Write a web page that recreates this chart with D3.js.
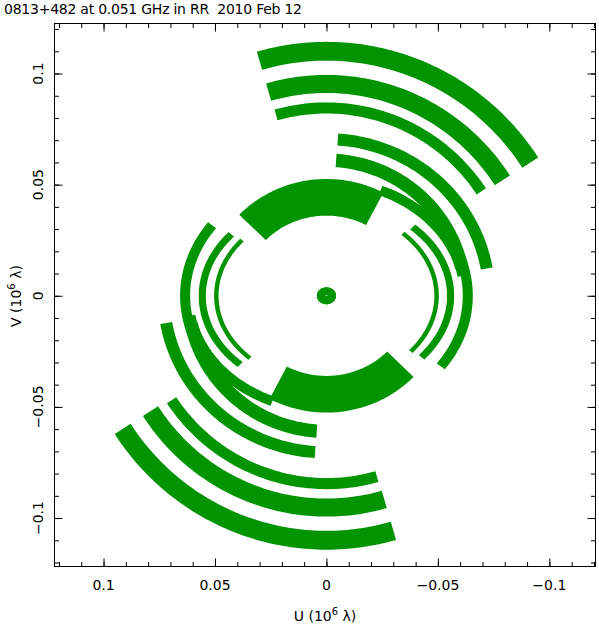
<!DOCTYPE html>
<html>
<head>
<meta charset="utf-8">
<script src="https://cdn.jsdelivr.net/npm/d3@7"></script>
<style>
  body { margin: 0; background: #fff; }
  text { font-family: "DejaVu Sans", sans-serif; fill: #000; white-space: pre; }
</style>
</head>
<body>
<svg id="chart" width="599" height="626"></svg>
<script>
// uv tracks (upper half); each one is drawn with its conjugate (-u,-v)
// ellipse: -u = semiU*cos(t), v = semiV*sin(t), t in degrees, band of width bandW
const trackNames = ['T1', 'T2', 'T3', 'M1', 'M2', 'C', 'F', 'D1', 'D2', 'D3', 'zero'];
const semiU  = [0.109, 0.0941, 0.0836, 0.073, 0.062, 0.0461, 0.062, 0.0494, 0.0557, 0.0634, 0.0025];
const semiV  = [0.110, 0.0953, 0.0845, 0.0705, 0.061, 0.0443, 0.0515, 0.039, 0.043, 0.054, 0.002];
const bandW  = [0.0085, 0.0081, 0.005, 0.0054, 0.006, 0.0165, 0.0045, 0.002, 0.0032, 0.0045, 0.0036];
const tStart = [106, 106, 105.7, 86, 86, 136, 67, 46, 46, 45, 0];
const tEnd   = [33, 33, 33.8, 10, 12, 62, 10, -40, -40, -36, 360];

const majorTicks = [0.1, 0.05, 0, -0.05, -0.1];
const tickLabels = ['0.1', '0.05', '0', '\u22120.05', '\u22120.1'];
const minorTicks = d3.range(-12, 13).map(d => d / 100);

const title = '0813+482 at 0.051 GHz in RR  2010 Feb 12';
const green = '#009400';

const svg = d3.select('#chart');
const pL = 54.5, pR = 595.5, pT = 23.5, pB = 566.5;

const x = d3.scaleLinear().domain([0.122, -0.1207]).range([pL, pR]);
const y = d3.scaleLinear().domain([-0.1218, 0.1225]).range([pB, pT]);

// tracks
const g = svg.append('g');
function band(i, sign) {
  const t0 = tStart[i], t1 = tEnd[i];
  const n = Math.max(8, Math.round(Math.abs(t1 - t0)));
  const ts = d3.range(n + 1).map(k => (t0 + (t1 - t0) * k / n) * Math.PI / 180);
  const pts = [];
  const h = bandW[i] / 2;
  ts.forEach(t => pts.push([sign * -(semiU[i] + h) * Math.cos(t), sign * (semiV[i] + h) * Math.sin(t)]));
  ts.slice().reverse().forEach(t => pts.push([sign * -(semiU[i] - h) * Math.cos(t), sign * (semiV[i] - h) * Math.sin(t)]));
  return pts;
}
const line = d3.line().x(d => x(d[0])).y(d => y(d[1]));
trackNames.forEach((name, i) => {
  [1, -1].forEach(sign => {
    g.append('path')
      .attr('d', line(band(i, sign)) + 'Z')
      .attr('fill', green);
  });
});

// frame
svg.append('rect')
  .attr('x', pL).attr('y', pT)
  .attr('width', pR - pL).attr('height', pB - pT)
  .attr('fill', 'none').attr('stroke', '#000').attr('stroke-width', 1);

// inward ticks on all four sides
function ticks(axis, tr, vals, size) {
  const a = svg.append('g').attr('transform', tr)
    .call(axis.tickValues(vals).tickSize(-size).tickSizeOuter(0).tickFormat(''));
  a.select('.domain').remove();
  a.selectAll('line').attr('stroke', '#000');
}
ticks(d3.axisBottom(x), `translate(0,${pB})`, majorTicks, 8);
ticks(d3.axisBottom(x), `translate(0,${pB})`, minorTicks, 4.5);
ticks(d3.axisTop(x), `translate(0,${pT})`, majorTicks, 8);
ticks(d3.axisTop(x), `translate(0,${pT})`, minorTicks, 4.5);
ticks(d3.axisLeft(y), `translate(${pL},0)`, majorTicks, 8);
ticks(d3.axisLeft(y), `translate(${pL},0)`, minorTicks, 4.5);
ticks(d3.axisRight(y), `translate(${pR},0)`, majorTicks, 8);
ticks(d3.axisRight(y), `translate(${pR},0)`, minorTicks, 4.5);

// tick labels
svg.append('g').selectAll('text').data(majorTicks).join('text')
  .attr('x', d => x(d)).attr('y', 590)
  .attr('text-anchor', 'middle').attr('font-size', 14)
  .text((d, i) => tickLabels[i]);
svg.append('g').selectAll('text').data(majorTicks).join('text')
  .attr('transform', d => `translate(43,${y(d)}) rotate(-90)`)
  .attr('text-anchor', 'middle').attr('font-size', 14)
  .text((d, i) => tickLabels[i]);

// title and axis titles
svg.append('text').attr('x', 4).attr('y', 14).attr('font-size', 14)
  .attr('textLength', 298).attr('lengthAdjust', 'spacing').text(title);

const xl = svg.append('text').attr('x', 325).attr('y', 621)
  .attr('text-anchor', 'middle').attr('font-size', 14);
xl.append('tspan').text('U (10');
xl.append('tspan').attr('dy', -6).attr('font-size', 10).text('6');
xl.append('tspan').attr('dy', 6).text(' \u03bb)');

const yl = svg.append('text').attr('transform', 'translate(21,296) rotate(-90)')
  .attr('text-anchor', 'middle').attr('font-size', 14);
yl.append('tspan').text('V (10');
yl.append('tspan').attr('dy', -6).attr('font-size', 10).text('6');
yl.append('tspan').attr('dy', 6).text(' \u03bb)');
</script>
</body>
</html>
